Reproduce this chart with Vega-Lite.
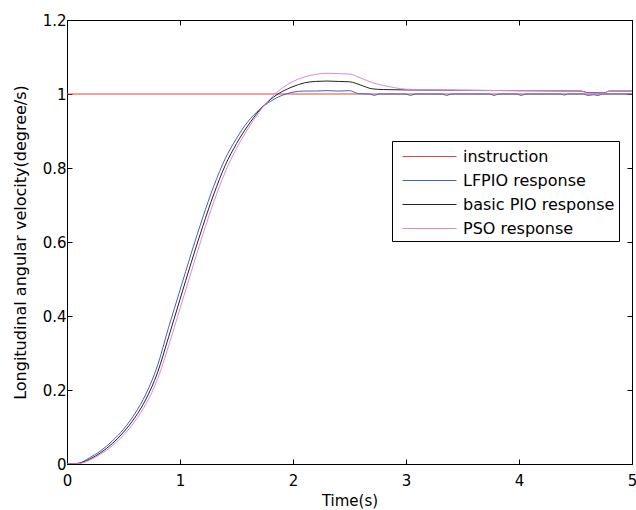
{
  "$schema": "https://vega.github.io/schema/vega-lite/v6.json",
  "width": 565,
  "height": 444,
  "autosize": {"type": "none"},
  "padding": {"left": 67, "top": 20, "right": 4, "bottom": 46},
  "background": "white",
  "config": {
    "font": "DejaVu Sans",
    "view": {"stroke": "black", "strokeWidth": 1},
    "axis": {"grid": false, "domainColor": "black", "tickColor": "black", "labelColor": "black", "titleColor": "black", "labelFont": "DejaVu Sans", "titleFont": "DejaVu Sans", "labelFontSize": 15, "titleFontSize": 15, "titleFontWeight": "normal", "tickSize": -5, "domainWidth": 1}
  },
  "datasets": {
    "curves": [
      {"t": 0, "v": 1, "s": "instruction"},
      {"t": 5, "v": 1, "s": "instruction"},

      {"t": 0, "v": 0, "s": "LFPIO response"},
      {"t": 0.1, "v": 0.002, "s": "LFPIO response"},
      {"t": 0.2, "v": 0.017, "s": "LFPIO response"},
      {"t": 0.3, "v": 0.036, "s": "LFPIO response"},
      {"t": 0.4, "v": 0.062, "s": "LFPIO response"},
      {"t": 0.5, "v": 0.094, "s": "LFPIO response"},
      {"t": 0.6, "v": 0.136, "s": "LFPIO response"},
      {"t": 0.7, "v": 0.19, "s": "LFPIO response"},
      {"t": 0.8, "v": 0.265, "s": "LFPIO response"},
      {"t": 0.9, "v": 0.37, "s": "LFPIO response"},
      {"t": 1.0, "v": 0.47, "s": "LFPIO response"},
      {"t": 1.1, "v": 0.57, "s": "LFPIO response"},
      {"t": 1.2, "v": 0.665, "s": "LFPIO response"},
      {"t": 1.3, "v": 0.752, "s": "LFPIO response"},
      {"t": 1.4, "v": 0.825, "s": "LFPIO response"},
      {"t": 1.5, "v": 0.88, "s": "LFPIO response"},
      {"t": 1.6, "v": 0.925, "s": "LFPIO response"},
      {"t": 1.7, "v": 0.957, "s": "LFPIO response"},
      {"t": 1.8, "v": 0.98, "s": "LFPIO response"},
      {"t": 1.9, "v": 0.996, "s": "LFPIO response"},
      {"t": 2.0, "v": 1.005, "s": "LFPIO response"},
      {"t": 2.1, "v": 1.008, "s": "LFPIO response"},
      {"t": 2.2, "v": 1.008, "s": "LFPIO response"},
      {"t": 2.3, "v": 1.009, "s": "LFPIO response"},
      {"t": 2.4, "v": 1.008, "s": "LFPIO response"},
      {"t": 2.5, "v": 1.009, "s": "LFPIO response"},
      {"t": 2.58, "v": 1.001, "s": "LFPIO response"},
      {"t": 2.68, "v": 1.0, "s": "LFPIO response"},
      {"t": 2.72, "v": 0.996, "s": "LFPIO response"},
      {"t": 2.76, "v": 1.0, "s": "LFPIO response"},
      {"t": 3.0, "v": 1.0, "s": "LFPIO response"},
      {"t": 3.04, "v": 0.996, "s": "LFPIO response"},
      {"t": 3.08, "v": 1.0, "s": "LFPIO response"},
      {"t": 3.32, "v": 1.0, "s": "LFPIO response"},
      {"t": 3.36, "v": 0.996, "s": "LFPIO response"},
      {"t": 3.4, "v": 1.0, "s": "LFPIO response"},
      {"t": 3.74, "v": 1.0, "s": "LFPIO response"},
      {"t": 3.78, "v": 0.996, "s": "LFPIO response"},
      {"t": 3.82, "v": 1.0, "s": "LFPIO response"},
      {"t": 3.98, "v": 1.0, "s": "LFPIO response"},
      {"t": 4.02, "v": 0.996, "s": "LFPIO response"},
      {"t": 4.06, "v": 1.0, "s": "LFPIO response"},
      {"t": 4.37, "v": 1.0, "s": "LFPIO response"},
      {"t": 4.4, "v": 0.997, "s": "LFPIO response"},
      {"t": 4.43, "v": 1.0, "s": "LFPIO response"},
      {"t": 4.57, "v": 1.0, "s": "LFPIO response"},
      {"t": 4.61, "v": 0.996, "s": "LFPIO response"},
      {"t": 4.66, "v": 0.998, "s": "LFPIO response"},
      {"t": 4.7, "v": 0.996, "s": "LFPIO response"},
      {"t": 4.74, "v": 1.0, "s": "LFPIO response"},
      {"t": 5.0, "v": 1.0, "s": "LFPIO response"},

      {"t": 0, "v": 0, "s": "basic PIO response"},
      {"t": 0.1, "v": 0.0015, "s": "basic PIO response"},
      {"t": 0.2, "v": 0.013, "s": "basic PIO response"},
      {"t": 0.3, "v": 0.031, "s": "basic PIO response"},
      {"t": 0.4, "v": 0.055, "s": "basic PIO response"},
      {"t": 0.5, "v": 0.086, "s": "basic PIO response"},
      {"t": 0.6, "v": 0.125, "s": "basic PIO response"},
      {"t": 0.7, "v": 0.176, "s": "basic PIO response"},
      {"t": 0.8, "v": 0.246, "s": "basic PIO response"},
      {"t": 0.9, "v": 0.344, "s": "basic PIO response"},
      {"t": 1.0, "v": 0.445, "s": "basic PIO response"},
      {"t": 1.1, "v": 0.545, "s": "basic PIO response"},
      {"t": 1.2, "v": 0.641, "s": "basic PIO response"},
      {"t": 1.3, "v": 0.73, "s": "basic PIO response"},
      {"t": 1.4, "v": 0.807, "s": "basic PIO response"},
      {"t": 1.5, "v": 0.866, "s": "basic PIO response"},
      {"t": 1.6, "v": 0.914, "s": "basic PIO response"},
      {"t": 1.7, "v": 0.955, "s": "basic PIO response"},
      {"t": 1.8, "v": 0.985, "s": "basic PIO response"},
      {"t": 1.9, "v": 1.006, "s": "basic PIO response"},
      {"t": 2.0, "v": 1.02, "s": "basic PIO response"},
      {"t": 2.1, "v": 1.03, "s": "basic PIO response"},
      {"t": 2.2, "v": 1.034, "s": "basic PIO response"},
      {"t": 2.3, "v": 1.035, "s": "basic PIO response"},
      {"t": 2.4, "v": 1.034, "s": "basic PIO response"},
      {"t": 2.5, "v": 1.033, "s": "basic PIO response"},
      {"t": 2.6, "v": 1.024, "s": "basic PIO response"},
      {"t": 2.7, "v": 1.014, "s": "basic PIO response"},
      {"t": 2.8, "v": 1.012, "s": "basic PIO response"},
      {"t": 3.0, "v": 1.011, "s": "basic PIO response"},
      {"t": 3.5, "v": 1.01, "s": "basic PIO response"},
      {"t": 4.0, "v": 1.009, "s": "basic PIO response"},
      {"t": 4.55, "v": 1.008, "s": "basic PIO response"},
      {"t": 4.6, "v": 1.004, "s": "basic PIO response"},
      {"t": 4.75, "v": 1.003, "s": "basic PIO response"},
      {"t": 4.8, "v": 1.008, "s": "basic PIO response"},
      {"t": 5.0, "v": 1.008, "s": "basic PIO response"},

      {"t": 0, "v": 0, "s": "PSO response"},
      {"t": 0.1, "v": 0.001, "s": "PSO response"},
      {"t": 0.2, "v": 0.01, "s": "PSO response"},
      {"t": 0.3, "v": 0.027, "s": "PSO response"},
      {"t": 0.4, "v": 0.049, "s": "PSO response"},
      {"t": 0.5, "v": 0.078, "s": "PSO response"},
      {"t": 0.6, "v": 0.115, "s": "PSO response"},
      {"t": 0.7, "v": 0.163, "s": "PSO response"},
      {"t": 0.8, "v": 0.228, "s": "PSO response"},
      {"t": 0.9, "v": 0.32, "s": "PSO response"},
      {"t": 1.0, "v": 0.42, "s": "PSO response"},
      {"t": 1.1, "v": 0.52, "s": "PSO response"},
      {"t": 1.2, "v": 0.618, "s": "PSO response"},
      {"t": 1.3, "v": 0.709, "s": "PSO response"},
      {"t": 1.4, "v": 0.789, "s": "PSO response"},
      {"t": 1.5, "v": 0.853, "s": "PSO response"},
      {"t": 1.6, "v": 0.905, "s": "PSO response"},
      {"t": 1.7, "v": 0.951, "s": "PSO response"},
      {"t": 1.8, "v": 0.988, "s": "PSO response"},
      {"t": 1.9, "v": 1.015, "s": "PSO response"},
      {"t": 2.0, "v": 1.034, "s": "PSO response"},
      {"t": 2.1, "v": 1.046, "s": "PSO response"},
      {"t": 2.2, "v": 1.053, "s": "PSO response"},
      {"t": 2.3, "v": 1.056, "s": "PSO response"},
      {"t": 2.4, "v": 1.055, "s": "PSO response"},
      {"t": 2.5, "v": 1.054, "s": "PSO response"},
      {"t": 2.6, "v": 1.043, "s": "PSO response"},
      {"t": 2.7, "v": 1.031, "s": "PSO response"},
      {"t": 2.8, "v": 1.023, "s": "PSO response"},
      {"t": 2.9, "v": 1.017, "s": "PSO response"},
      {"t": 3.0, "v": 1.013, "s": "PSO response"},
      {"t": 3.2, "v": 1.011, "s": "PSO response"},
      {"t": 3.5, "v": 1.01, "s": "PSO response"},
      {"t": 4.0, "v": 1.009, "s": "PSO response"},
      {"t": 4.55, "v": 1.008, "s": "PSO response"},
      {"t": 4.6, "v": 1.003, "s": "PSO response"},
      {"t": 4.75, "v": 1.002, "s": "PSO response"},
      {"t": 4.8, "v": 1.008, "s": "PSO response"},
      {"t": 5.0, "v": 1.008, "s": "PSO response"}
    ]
  },
  "data": {"name": "curves"},
  "layer": [
    {
      "mark": {"type": "line", "strokeWidth": 1, "clip": true, "interpolate": "monotone"},
      "encoding": {
        "x": {"field": "t", "type": "quantitative", "scale": {"domain": [0, 5], "nice": false},
              "axis": {"title": "Time(s)", "values": [0, 1, 2, 3, 4, 5], "labelPadding": 14, "titlePadding": 5, "labelFlush": false}},
        "y": {"field": "v", "type": "quantitative", "scale": {"domain": [0, 1.2], "nice": false, "zero": false},
              "axis": {"title": "Longitudinal angular velocity(degree/s)", "titleFontSize": 16, "values": [0, 0.2, 0.4, 0.6, 0.8, 1, 1.2], "format": "~g", "labelPadding": 6, "titlePadding": 14, "labelFlush": false}},
        "color": {"field": "s", "type": "nominal",
                  "scale": {"domain": ["instruction", "LFPIO response", "basic PIO response", "PSO response"],
                            "range": ["#e8453c", "#4262c4", "#222222", "#dd88dd"]},
                  "legend": {"title": null, "orient": "none", "legendX": 325, "legendY": 121,
                             "strokeColor": "black", "fillColor": "white", "padding": 4,
                             "symbolType": "M-2.5,0L2.5,0", "symbolSize": 466, "symbolStrokeWidth": 1.2,
                             "symbolFillColor": "transparent",
                             "labelFontSize": 16, "labelFont": "DejaVu Sans", "labelColor": "black",
                             "rowPadding": 4, "labelOffset": 22, "symbolOffset": 22}},
        "order": {"field": "t", "type": "quantitative"}
      }
    },
    {
      "mark": {"type": "rule", "opacity": 0},
      "encoding": {
        "x": {"field": "t", "type": "quantitative", "scale": {"domain": [0, 5], "nice": false},
              "axis": {"orient": "top", "labels": false, "title": null, "values": [0, 1, 2, 3, 4, 5]}},
        "y": {"field": "v", "type": "quantitative", "scale": {"domain": [0, 1.2], "nice": false, "zero": false},
              "axis": {"orient": "right", "labels": false, "title": null, "values": [0, 0.2, 0.4, 0.6, 0.8, 1, 1.2]}}
      }
    }
  ],
  "resolve": {"axis": {"x": "independent", "y": "independent"}}
}
